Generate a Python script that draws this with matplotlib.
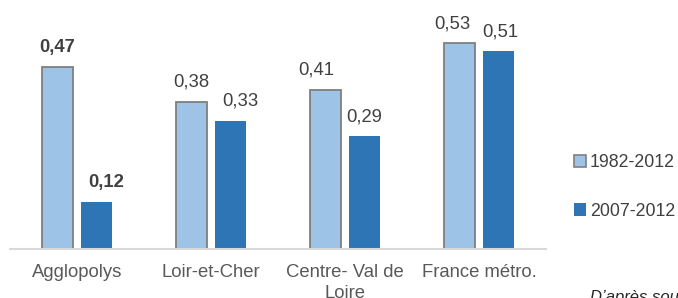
import matplotlib
matplotlib.use("Agg")
import matplotlib.pyplot as plt
import numpy as np
from matplotlib.patches import Patch

plt.rcParams['font.family'] = ['Liberation Sans', 'DejaVu Sans']

categories = ["Agglopolys", "Loir-et-Cher", "Centre- Val de\nLoire", "France métro."]
series_names = ["1982-2012", "2007-2012"]
values_1982 = [0.47, 0.38, 0.41, 0.53]
values_2007 = [0.12, 0.33, 0.29, 0.51]
labels_1982 = ["0,47", "0,38", "0,41", "0,53"]
labels_2007 = ["0,12", "0,33", "0,29", "0,51"]
bold_flags = [True, False, False, False]

# label pixel nudges (styling)
dx_1982 = [0, 0, -9, -7]
dx_2007 = [10, 10, 0, 2]

W, H = 678, 298
fig = plt.figure(figsize=(W / 100, H / 100), dpi=100)
ax = fig.add_axes([10 / W, (H - 249) / H, 536 / W, 249 / H])

light = "#9DC3E6"
dark = "#2E75B6"
x = np.arange(len(categories))
bw = 0.225
off = 0.145

ax.bar(x - off, values_1982, bw, color=light, edgecolor="#7F7F7F", linewidth=1.3, zorder=3)
ax.bar(x + off, values_2007, bw, color=dark, edgecolor="none", zorder=3)

ax.set_xlim(-0.5, len(categories) - 0.5)
ax.set_ylim(0, 249 / 388)

for i in range(len(categories)):
    w = "bold" if bold_flags[i] else "normal"
    ax.annotate(labels_1982[i], (x[i] - off, values_1982[i]), xytext=(dx_1982[i] * 0.72, 8),
                textcoords="offset points", ha="center", va="bottom", fontsize=13.3,
                color="#404040", fontweight=w)
    ax.annotate(labels_2007[i], (x[i] + off, values_2007[i]), xytext=(dx_2007[i] * 0.72, 8),
                textcoords="offset points", ha="center", va="bottom", fontsize=13.3,
                color="#404040", fontweight=w)

ax.set_xticks(x)
ax.set_xticklabels(categories, fontsize=13.3, color="#595959", linespacing=1.25)
ax.tick_params(axis="x", length=0, pad=11)
ax.set_yticks([])
for s in ["top", "left", "right"]:
    ax.spines[s].set_visible(False)
ax.spines["bottom"].set_color("#D9D9D9")
ax.spines["bottom"].set_linewidth(1.5)
ax.spines["bottom"].set_zorder(4)

handles = [Patch(facecolor=light, edgecolor="#7F7F7F", linewidth=1.2),
           Patch(facecolor=dark, edgecolor="none")]
fig.legend(handles, series_names, loc="center left",
           bbox_to_anchor=(558 / W, (H - 187) / H), frameon=False,
           fontsize=12.8, handlelength=0.7, handleheight=0.7, handletextpad=0.2,
           labelspacing=1.75, labelcolor="#404040")

fig.text(590 / W, (H - 290) / H, "D’après source", fontsize=12, style="italic",
         color="#262626", ha="left", va="top")

fig.savefig("out.png", dpi=100)
